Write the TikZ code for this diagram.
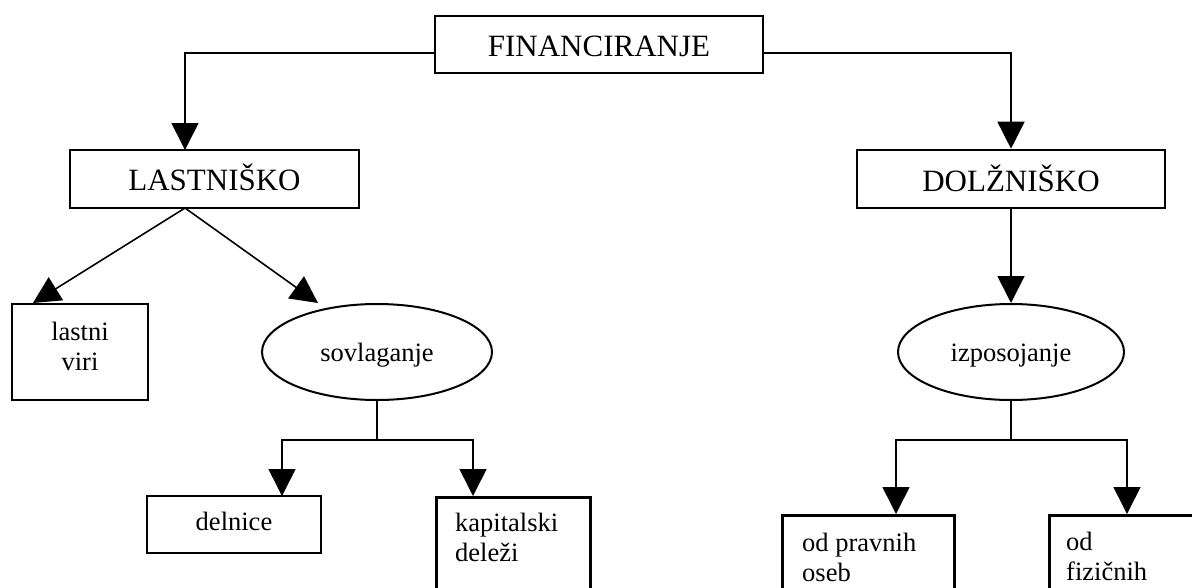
\documentclass[tikz,border=0pt]{standalone}
\usepackage{fontspec}
\setmainfont{Liberation Serif}
\usetikzlibrary{arrows.meta,shapes.geometric}
\tikzset{
  bigtxt/.style={font=\fontsize{31}{36}\selectfont},
  smalltxt/.style={font=\fontsize{26.5}{30}\selectfont},
  boxnode/.style={draw, line width=2.6pt, rectangle, inner sep=0pt},
  ellnode/.style={draw, line width=2pt, ellipse, inner sep=0pt, smalltxt, text height=19.4pt, text depth=0pt},
  txtnode/.style={inner sep=0pt, smalltxt},
  conn/.style={line width=1.6pt},
  arr/.style={conn, -{Triangle[width=27pt,length=27pt]}}
}
\begin{document}
\begin{tikzpicture}[x=1pt,y=-1pt]
\useasboundingbox (0,0) rectangle (1192,587);
% top level
\node[boxnode, bigtxt, minimum width=328pt, minimum height=57pt, text height=24pt, text depth=0pt] (fin) at (599,44.5) {FINANCIRANJE};
\node[boxnode, bigtxt, minimum width=289pt, minimum height=58pt, text height=23.4pt, text depth=0pt] (last) at (214.5,179) {LASTNIŠKO};
\node[boxnode, bigtxt, minimum width=308pt, minimum height=58pt, text height=24pt, text depth=0pt] (dolz) at (1011,179) {DOLŽNIŠKO};
% second level
\node[boxnode, minimum width=136pt, minimum height=96pt] (lv) at (80,352) {};
\node[txtnode, anchor=base] (lvt1) at (80,340) {lastni};
\node[txtnode, anchor=base] (lvt2) at (80,370.7) {viri};
\node[ellnode, minimum width=230pt, minimum height=96pt] (sov) at (377,352) {sovlaganje};
\node[ellnode, minimum width=226pt, minimum height=96pt] (izp) at (1011,352) {izposojanje};
% third level
\node[boxnode, smalltxt, minimum width=174pt, minimum height=57pt, text height=12pt, text depth=0pt] (del) at (234,524.5) {delnice};
\node[boxnode, anchor=north west, minimum width=154pt, minimum height=110pt] (kd) at (435,496) {};
\node[txtnode, anchor=base west] (kdt1) at (455,531.7) {kapitalski};
\node[txtnode, anchor=base west] (kdt2) at (455,561.7) {deleži};
\node[boxnode, anchor=north west, minimum width=172pt, minimum height=100pt] (opo) at (781,514) {};
\node[txtnode, anchor=base west] (opot1) at (802,551) {od pravnih};
\node[txtnode, anchor=base west] (opot2) at (802,581.5) {oseb};
\node[boxnode, anchor=north west, minimum width=170pt, minimum height=100pt] (ofi) at (1048,514) {};
\node[txtnode, anchor=base west] (ofit1) at (1066,550) {od};
\node[txtnode, anchor=base west] (ofit2) at (1066,580) {fizičnih};
% connector points
\coordinate (fl) at (435,53);
\coordinate (fr) at (763,53);
\coordinate (lastin) at (185,150);
\coordinate (lastout) at (185,208);
\coordinate (lvin) at (33,303);
\coordinate (sovin) at (318,303);
\coordinate (sj) at (377,440);
\coordinate (delin) at (282,496);
\coordinate (kdin) at (473,496);
\coordinate (ij) at (1011,440);
\coordinate (opoin) at (896,514);
\coordinate (ofiin) at (1127,514);
% connectors
\draw[arr] (fl) -| (lastin);
\draw[arr] (fr) -| (dolz.north);
\draw[arr] (lastout) -- (lvin);
\draw[arr] (lastout) -- (sovin);
\draw[arr] (dolz.south) -- (izp.north);
\draw[conn] (sov.south) -- (sj);
\draw[arr] (sj) -| (delin);
\draw[arr] (sj) -| (kdin);
\draw[conn] (izp.south) -- (ij);
\draw[arr] (ij) -| (opoin);
\draw[arr] (ij) -| (ofiin);
\end{tikzpicture}
\end{document}
